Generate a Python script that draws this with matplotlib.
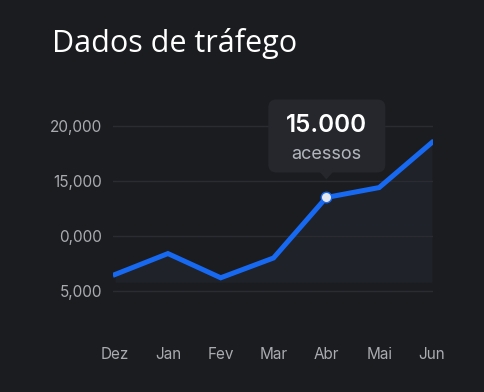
import matplotlib
matplotlib.use("Agg")
import matplotlib.pyplot as plt
from matplotlib.patches import FancyBboxPatch, Polygon
from matplotlib.transforms import ScaledTranslation

# data
months = ["Dez", "Jan", "Fev", "Mar", "Abr", "Mai", "Jun"]
visits = [6500, 8400, 6200, 8000, 13500, 14400, 18500]
ytick_values = [5000, 10000, 15000, 20000]
ytick_labels = ["5,000", "0,000", "15,000", "20,000"]
highlight = 4
tooltip_value = "15.000"
tooltip_unit = "acessos"
title = "Dados de tráfego"

bg = "#1b1c20"
blue = "#1769f2"

fig = plt.figure(figsize=(4.85, 3.92), dpi=100, facecolor=bg)
ax = fig.add_axes([113 / 485, 1 - 300 / 392, 320 / 485, 200 / 392], facecolor=bg)

x = list(range(len(months)))
ax.fill_between(x, visits, 5800, color="#1f2229", zorder=1, linewidth=0)
ax.plot(x, visits, color=blue, linewidth=3.6, solid_joinstyle="miter", zorder=3)
ax.plot(x[highlight], visits[highlight], "o", markersize=7.5,
        markerfacecolor="#e4e7ee", markeredgecolor=blue, markeredgewidth=1, zorder=4)

ax.set_xlim(-0.04, 6.02)
ax.set_ylim(4180, 22360)
ax.set_xticks(x)
ax.set_xticklabels(months)
ax.set_yticks(ytick_values)
ax.set_yticklabels(ytick_labels)
ax.grid(axis="y", color="#2a2c32", linewidth=1, zorder=0)
ax.tick_params(axis="both", length=0, colors="#a9abb0", labelsize=11)
ax.tick_params(axis="x", pad=34)
ax.tick_params(axis="y", pad=8)
for lab in ax.get_xticklabels() + ax.get_yticklabels():
    lab.set_family("Inter")
for s in ax.spines.values():
    s.set_visible(False)

# tooltip, laid out in inches around the highlighted point
off = fig.dpi_scale_trans + ScaledTranslation(x[highlight], visits[highlight], ax.transData)
box = FancyBboxPatch((-0.58, 0.25), 1.17, 0.73, boxstyle="round,pad=0,rounding_size=0.08",
                     transform=off, facecolor="#25272d", edgecolor="none", zorder=5, clip_on=False)
ax.add_patch(box)
ax.add_patch(Polygon([(-0.07, 0.26), (0.07, 0.26), (0, 0.18)], closed=True, transform=off,
                     facecolor="#25272d", edgecolor="none", zorder=5, clip_on=False))
ax.text(0, 0.72, tooltip_value, transform=off, ha="center", va="center", color="white",
        fontsize=17.5, fontweight="semibold", family="Inter", zorder=6)
ax.text(0, 0.43, tooltip_unit, transform=off, ha="center", va="center", color="#b3b6bd",
        fontsize=13, family="Inter", zorder=6)

fig.text(52 / 485, 1 - 52 / 392, title, ha="left", va="baseline", color="white",
         fontsize=22, family="Open Sans")

fig.savefig("out.png", dpi=100, facecolor=bg)
